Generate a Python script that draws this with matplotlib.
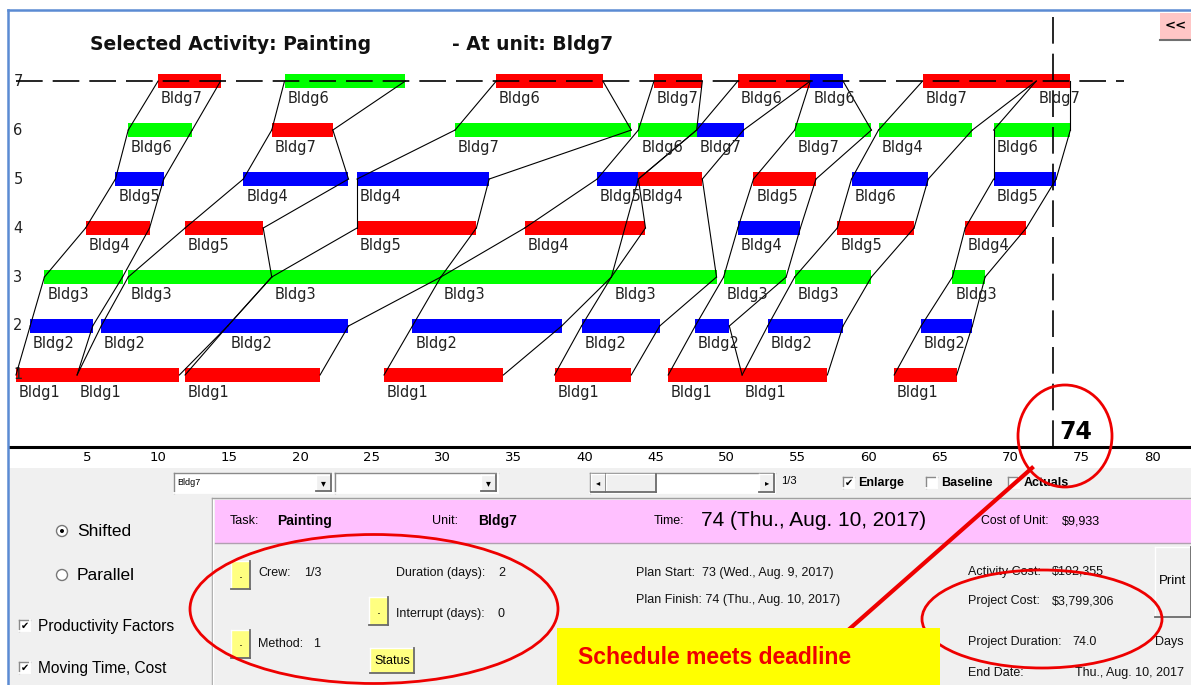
import matplotlib
matplotlib.use('Agg')
import matplotlib.pyplot as plt
from matplotlib.patches import Rectangle, Ellipse, Circle

NARROW = ['Liberation Sans Narrow', 'Liberation Sans', 'DejaVu Sans']
SANS = ['Liberation Sans', 'DejaVu Sans']

# bars on each unit level: (start day, finish day, colour, building)
level1 = [(0.0, 4.3, 'r', 'Bldg1'), (4.3, 11.5, 'r', 'Bldg1'), (11.9, 21.4, 'r', 'Bldg1'),
          (25.9, 34.3, 'r', 'Bldg1'), (37.9, 43.3, 'r', 'Bldg1'), (45.9, 51.1, 'r', 'Bldg1'),
          (51.1, 57.1, 'r', 'Bldg1'), (61.8, 66.2, 'r', 'Bldg1')]
level2 = [(1.0, 5.4, 'b', 'Bldg2'), (6.0, 14.9, 'b', 'Bldg2'), (14.9, 23.4, 'b', 'Bldg2'),
          (27.9, 38.4, 'b', 'Bldg2'), (39.8, 45.3, 'b', 'Bldg2'), (47.8, 50.2, 'b', 'Bldg2'),
          (52.9, 58.2, 'b', 'Bldg2'), (63.7, 67.3, 'b', 'Bldg2')]
level3 = [(2.0, 7.5, 'g', 'Bldg3'), (7.9, 18.0, 'g', 'Bldg3'), (18.0, 29.9, 'g', 'Bldg3'),
          (29.9, 41.9, 'g', 'Bldg3'), (41.9, 49.3, 'g', 'Bldg3'), (49.8, 54.2, 'g', 'Bldg3'),
          (54.8, 60.2, 'g', 'Bldg3'), (65.9, 68.2, 'g', 'Bldg3')]
level4 = [(4.9, 9.4, 'r', 'Bldg4'), (11.9, 17.4, 'r', 'Bldg5'), (24.0, 32.4, 'r', 'Bldg5'),
          (35.8, 44.3, 'r', 'Bldg4'), (50.8, 55.2, 'b', 'Bldg4'), (57.8, 63.2, 'r', 'Bldg5'),
          (66.8, 71.1, 'r', 'Bldg4')]
level5 = [(7.0, 10.4, 'b', 'Bldg5'), (16.0, 23.4, 'b', 'Bldg4'), (24.0, 33.3, 'b', 'Bldg4'),
          (40.9, 43.8, 'b', 'Bldg5'), (43.8, 48.3, 'r', 'Bldg4'), (51.9, 56.3, 'r', 'Bldg5'),
          (58.8, 64.2, 'b', 'Bldg6'), (68.8, 73.2, 'b', 'Bldg5')]
level6 = [(7.9, 12.4, 'g', 'Bldg6'), (18.0, 22.3, 'r', 'Bldg7'), (30.9, 43.3, 'g', 'Bldg7'),
          (43.8, 47.9, 'g', 'Bldg6'), (47.9, 51.2, 'b', 'Bldg7'), (54.8, 60.2, 'g', 'Bldg7'),
          (60.7, 67.3, 'g', 'Bldg4'), (68.8, 74.2, 'g', 'Bldg6')]
level7 = [(10.0, 14.4, 'r', 'Bldg7'), (18.9, 27.4, 'g', 'Bldg6'), (33.8, 41.3, 'r', 'Bldg6'),
          (44.9, 48.3, 'r', 'Bldg7'), (50.8, 55.9, 'r', 'Bldg6'), (55.9, 58.2, 'b', 'Bldg6'),
          (63.8, 71.8, 'r', 'Bldg7'), (71.8, 74.2, 'r', 'Bldg7')]
levels = [level1, level2, level3, level4, level5, level6, level7]

# which bar of each level belongs to each activity (None = no bar at that level)
chains = [[0, 0, 0, 0, 0, 0, 0],
          [1, 1, 1, 1, 1, 1, 1],
          [2, 2, 2, 2, 2, 2, 2],
          [3, 3, 3, 3, 3, 3, 3],
          [4, 4, 4, None, 4, 4, 4],
          [5, 5, 5, 4, 5, 5, 5],
          [6, 6, 6, 5, 6, 6, 6],
          [7, 7, 7, 6, 7, 7, 7]]

x_ticks = list(range(5, 85, 5))
deadline = 73
finish_label = '74'
selected_activity = 'Painting'
selected_unit = 'Bldg7'

colours = {'r': '#ff0000', 'g': '#00ff00', 'b': '#0000ff'}

W, H = 1191, 685
fig = plt.figure(figsize=(W / 100, H / 100), dpi=100)
fig.patch.set_facecolor('white')

# ---------------- schedule chart ----------------
ax = fig.add_axes([10 / W, (H - 447) / H, (W - 10) / W, (447 - 11) / H])
ax.set_xlim(-0.42, 82.69)
ax.set_ylim(-0.47, 8.43)
for s in ['top', 'left', 'right']:
    ax.spines[s].set_visible(False)
ax.spines['bottom'].set_linewidth(2.2)
ax.set_xticks(x_ticks)
ax.set_xticklabels([str(t) for t in x_ticks], fontsize=9.5)
ax.tick_params(axis='x', length=0, pad=3)
ax.set_yticks([])

bar_h = 0.27
for lev, bars in enumerate(levels, start=1):
    for (s, e, c, name) in bars:
        ax.add_patch(Rectangle((s, lev - bar_h / 2), e - s, bar_h, facecolor=colours[c],
                               edgecolor='none', zorder=2))
        ax.text(s + 0.2, lev - 0.36, name, fontsize=10.5, color='#222222',
                ha='left', va='center', zorder=4)
    ax.text(0.14, lev, str(lev), fontsize=10.5, ha='center', va='center', color='#222222')

# links between consecutive bars of one activity
for chain in chains:
    pts = [(lev + 1, levels[lev][i]) for lev, i in enumerate(chain) if i is not None]
    for (la, ba), (lb, bb) in zip(pts[:-1], pts[1:]):
        ax.plot([ba[0], bb[0]], [la, lb], color='black', lw=0.8, zorder=3)
        ax.plot([ba[1], bb[1]], [la, lb], color='black', lw=0.8, zorder=3)

ax.plot([0, 78], [7, 7], color='black', lw=1.2, dashes=(16, 6), zorder=3)
ax.plot([deadline, deadline], [-0.47, 8.43], color='black', lw=1.2, dashes=(16, 6), zorder=3)
ax.text(deadline + 0.45, -0.16, finish_label, fontsize=17, fontweight='bold',
        ha='left', va='center')

# ---------------- window / controls overlay (pixel coordinates) ----------------
ov = fig.add_axes([0, 0, 1, 1])
ov.set_xlim(0, W)
ov.set_ylim(H, 0)
ov.axis('off')

frame = '#5b8bd3'
ov.plot([8, W], [10, 10], color=frame, lw=1.8)
ov.plot([8, 8], [10, H], color=frame, lw=1.8)

ov.text(90, 44, 'Selected Activity: ' + selected_activity, fontsize=13.5,
        fontweight='bold', family='DejaVu Sans', va='center', color='#111111')
ov.text(452, 44, '- At unit: ' + selected_unit, fontsize=13.5,
        fontweight='bold', family='DejaVu Sans', va='center', color='#111111')

ov.add_patch(Rectangle((1160, 13), 31, 27, facecolor='#ffc6c6', edgecolor='none'))
ov.plot([1160, W], [40, 40], color='#707070', lw=1.5)
ov.text(1176, 26, '<<', fontsize=9.5, fontweight='bold', ha='center', va='center')

panel = '#f0f0f0'
ov.add_patch(Rectangle((9, 468), W - 9, H - 468, facecolor=panel, edgecolor='none', zorder=0))


def box3d(x, y, w, h, fc, sunken=False, z=1):
    ov.add_patch(Rectangle((x, y), w, h, facecolor=fc, edgecolor='none', zorder=z))
    light, dark = ('#8a8a8a', '#ffffff') if sunken else ('#ffffff', '#6a6a6a')
    ov.plot([x, x + w], [y, y], color=light, lw=1, zorder=z)
    ov.plot([x, x], [y, y + h], color=light, lw=1, zorder=z)
    ov.plot([x, x + w], [y + h, y + h], color=dark, lw=1.3, zorder=z)
    ov.plot([x + w, x + w], [y, y + h], color=dark, lw=1.3, zorder=z)


# combo boxes
for (x0, x1, txt) in [(174, 333, selected_unit), (335, 498, '')]:
    box3d(x0, 473, x1 - x0, 20, 'white', sunken=True)
    box3d(x1 - 17, 475, 15, 16, panel)
    ov.text(x1 - 9.5, 483, '\u25BE', fontsize=7, ha='center', va='center')
    if txt:
        ov.text(x0 + 3, 482, txt, fontsize=6.5, family=NARROW, va='center')

# scrollbar
box3d(590, 473, 185, 20, 'white', sunken=True)
box3d(591, 474, 15, 18, panel)
box3d(606, 474, 50, 18, panel)
box3d(759, 474, 15, 18, panel)
ov.text(598, 483, '\u25C2', fontsize=6, ha='center', va='center')
ov.text(767, 483, '\u25B8', fontsize=6, ha='center', va='center')
ov.text(781, 481, '1/3', fontsize=8, family=NARROW, va='center')


def checkbox(x, y, checked):
    box3d(x, y - 6, 11, 11, 'white', sunken=True)
    if checked:
        ov.text(x + 5.5, y - 0.5, '\u2714', fontsize=7, ha='center', va='center')


checkbox(843, 483, True)
ov.text(858, 483, 'Enlarge', fontsize=9, fontweight='bold', family=NARROW, va='center')
checkbox(926, 483, False)
ov.text(941, 483, 'Baseline', fontsize=9, fontweight='bold', family=NARROW, va='center')
checkbox(1008, 483, False)
ov.text(1024, 483, 'Actuals', fontsize=9, fontweight='bold', family=NARROW, va='center')

# left option group
for (yy, label, sel) in [(531, 'Shifted', True), (575, 'Parallel', False)]:
    ov.add_patch(Circle((62, yy), 5.5, facecolor='white', edgecolor='#777777', lw=1))
    if sel:
        ov.add_patch(Circle((62, yy), 2, facecolor='black', edgecolor='none'))
    ov.text(77, yy, label, fontsize=12.5, family=NARROW, va='center')
for (yy, label) in [(626, 'Productivity Factors'), (668, 'Moving Time, Cost')]:
    checkbox(19, yy, True)
    ov.text(38, yy, label, fontsize=11.2, family=NARROW, va='center')

# information panel
ov.plot([212, 212], [498, H], color='#a0a0a0', lw=1)
ov.plot([213, 213], [498, H], color='white', lw=1)
ov.plot([212, W], [498, 498], color='#a0a0a0', lw=1)
ov.add_patch(Rectangle((215, 500), W - 215, 43, facecolor='#ffc0ff', edgecolor='none'))
ov.plot([215, W], [543, 543], color='#b0a0b0', lw=1)

ov.text(230, 521, 'Task:', fontsize=9, family=NARROW, va='center')
ov.text(277, 521, selected_activity, fontsize=10, fontweight='bold', family=NARROW, va='center')
ov.text(432, 521, 'Unit:', fontsize=9, family=NARROW, va='center')
ov.text(478, 521, selected_unit, fontsize=10, fontweight='bold', family=NARROW, va='center')
ov.text(654, 521, 'Time:', fontsize=9, family=NARROW, va='center')
ov.text(701, 521, '74 (Thu., Aug. 10, 2017)', fontsize=15, family=NARROW, va='center')
ov.text(981, 521, 'Cost of Unit:', fontsize=8.8, family=NARROW, va='center')
ov.text(1062, 521, '$9,933', fontsize=9, family=NARROW, va='center')

for (bx, by) in [(231, 561), (369, 597), (231, 630)]:
    box3d(bx, by, 19, 28, '#ffff80')
    ov.text(bx + 9.5, by + 13, '.', fontsize=9, ha='center', va='center')
box3d(370, 648, 44, 25, '#ffff80')
ov.text(392, 661, 'Status', fontsize=9, family=NARROW, ha='center', va='center')

info = [(258, 573, 'Crew:'), (304, 573, '1/3'), (396, 573, 'Duration (days):'), (498, 573, '2'),
        (396, 614, 'Interrupt (days):'), (498, 614, '0'), (258, 644, 'Method:'), (313, 644, '1'),
        (636, 573, 'Plan Start:  73 (Wed., Aug. 9, 2017)'),
        (636, 600, 'Plan Finish: 74 (Thu., Aug. 10, 2017)'),
        (968, 572, 'Activity Cost:'), (1052, 572, '$102,355'),
        (968, 601, 'Project Cost:'), (1052, 601, '$3,799,306'),
        (968, 642, 'Project Duration:'), (1072, 642, '74.0'), (1155, 642, 'Days'),
        (968, 673, 'End Date:'), (1075, 673, 'Thu., Aug. 10, 2017')]
for (tx, ty, t) in info:
    ov.text(tx, ty, t, fontsize=9, family=NARROW, va='center', color='#111111')

box3d(1155, 547, 36, 70, panel)
ov.text(1173, 581, 'Print', fontsize=9.5, family=NARROW, ha='center', va='center')

# annotations
red = '#ee0000'
ov.add_patch(Ellipse((1065, 436), 94, 102, facecolor='none', edgecolor=red, lw=2, zorder=6))
ov.add_patch(Ellipse((374, 609), 368, 149, facecolor='none', edgecolor=red, lw=2, zorder=6))
ov.add_patch(Ellipse((1042, 619), 240, 98, facecolor='none', edgecolor=red, lw=2, zorder=6))
ov.plot([1032, 846], [468, 632], color=red, lw=3, zorder=6)
ov.add_patch(Rectangle((557, 628), 383, 57, facecolor='#ffff00', edgecolor='none', zorder=7))
ov.text(578, 657, 'Schedule meets deadline', fontsize=16.5, fontweight='bold',
        family=SANS, color='#ee0000', va='center', zorder=8)

fig.savefig('out.png', dpi=100)
